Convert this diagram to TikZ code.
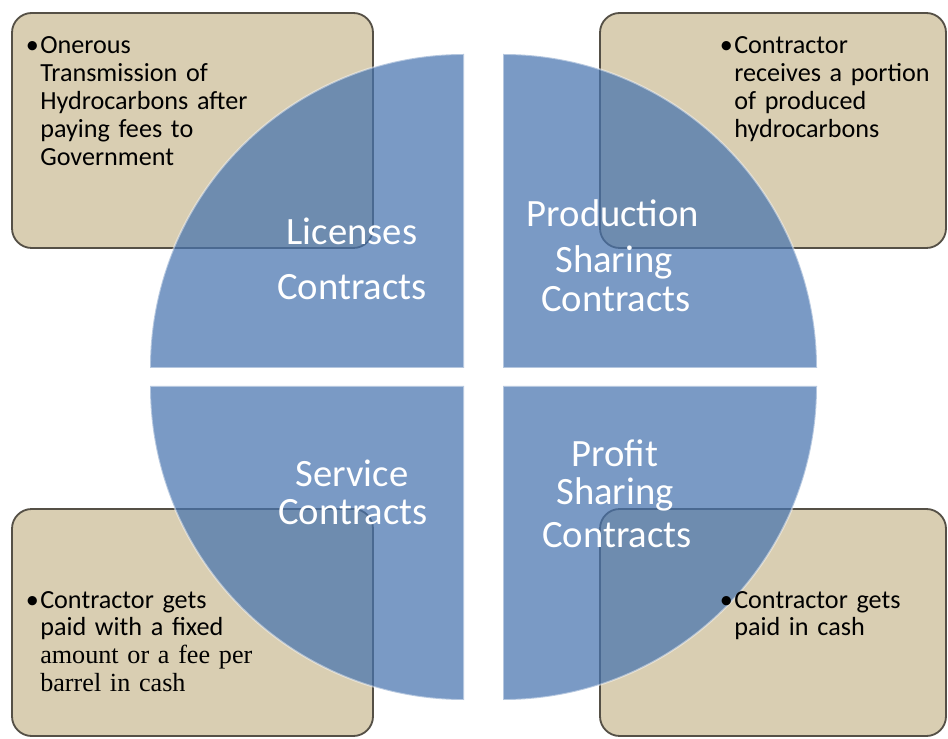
\documentclass[tikz,border=0pt]{standalone}
\usepackage{fontspec}
\setmainfont{Carlito}
\newfontfamily\timesfont{Liberation Serif}
\usepackage{xcolor}

\definecolor{quadblue}{RGB}{70,115,175}
\definecolor{boxtan}{RGB}{217,206,178}
\definecolor{boxline}{RGB}{85,80,70}

\tikzset{
    infobox/.style={fill=boxtan, draw=boxline, line width=1.3pt, rounded corners=14pt},
    quad/.style={fill=quadblue, fill opacity=0.72, draw=white, draw opacity=0.45, line width=1.3pt},
    quadlabel/.style={text=white, anchor=base, inner sep=0pt, font=\fontsize{27.5}{33}\selectfont},
    boxtext/.style={text=black, anchor=base west, inner sep=0pt, text width=6cm, align=left, font=\fontsize{18.6}{19.8}\selectfont}
}

\begin{document}
\begin{tikzpicture}[x=0.025cm, y=0.025cm]

    \useasboundingbox (0, 0) rectangle (948, 738);

    % Boxes in the corners
    \draw[infobox] (12, 490) rectangle (373, 725);
    \draw[infobox] (600, 490) rectangle (946, 725);
    \draw[infobox] (12, 2) rectangle (373, 229);
    \draw[infobox] (600, 2) rectangle (946, 229);

    % Circle cut in four
    \coordinate (ctl) at (464, 370);
    \coordinate (ctr) at (503, 370);
    \coordinate (cbl) at (464, 352);
    \coordinate (cbr) at (503, 352);

    \draw[quad] (ctl) -- ++(-314, 0) arc[start angle=180, end angle=90, radius=314] -- cycle;
    \draw[quad] (ctr) -- ++(0, 314) arc[start angle=90, end angle=0, radius=314] -- cycle;
    \draw[quad] (cbl) -- ++(0, -314) arc[start angle=270, end angle=180, radius=314] -- cycle;
    \draw[quad] (cbr) -- ++(314, 0) arc[start angle=0, end angle=-90, radius=314] -- cycle;

    % Names of the contracts
    \node[quadlabel] (lic1) at (352, 493) {Licenses};
    \node[quadlabel] (lic2) at (352, 438) {Contracts};

    \node[quadlabel] (prod1) at (613, 511) {Production};
    \node[quadlabel] (prod2) at (614, 465) {Sharing};
    \node[quadlabel] (prod3) at (616, 426) {Contracts};

    \node[quadlabel] (serv1) at (352, 251) {Service};
    \node[quadlabel] (serv2) at (353, 213) {Contracts};

    \node[quadlabel] (prof1) at (615, 271) {Profit};
    \node[quadlabel] (prof2) at (615, 233) {Sharing};
    \node[quadlabel] (prof3) at (617, 190) {Contracts};

    % Texts in the boxes
    \node[boxtext] (licinfo) at (40, 684)
        {\llap{\textbullet\kern1pt}Onerous\\Transmission of\\Hydrocarbons after\\paying fees to\\Government};
    \node[boxtext] (prodinfo) at (734, 684)
        {\llap{\textbullet\kern1pt}Contractor\\receives a portion\\of produced\\hydrocarbons};
    \node[boxtext] (servinfo) at (40, 130)
        {\llap{\textbullet\kern1pt}Contractor gets\\paid with a fixed\\{\timesfont amount or a fee per}\\{\timesfont barrel in cash}};
    \node[boxtext] (profinfo) at (734, 130)
        {\llap{\textbullet\kern1pt}Contractor gets\\paid in cash};

\end{tikzpicture}
\end{document}
